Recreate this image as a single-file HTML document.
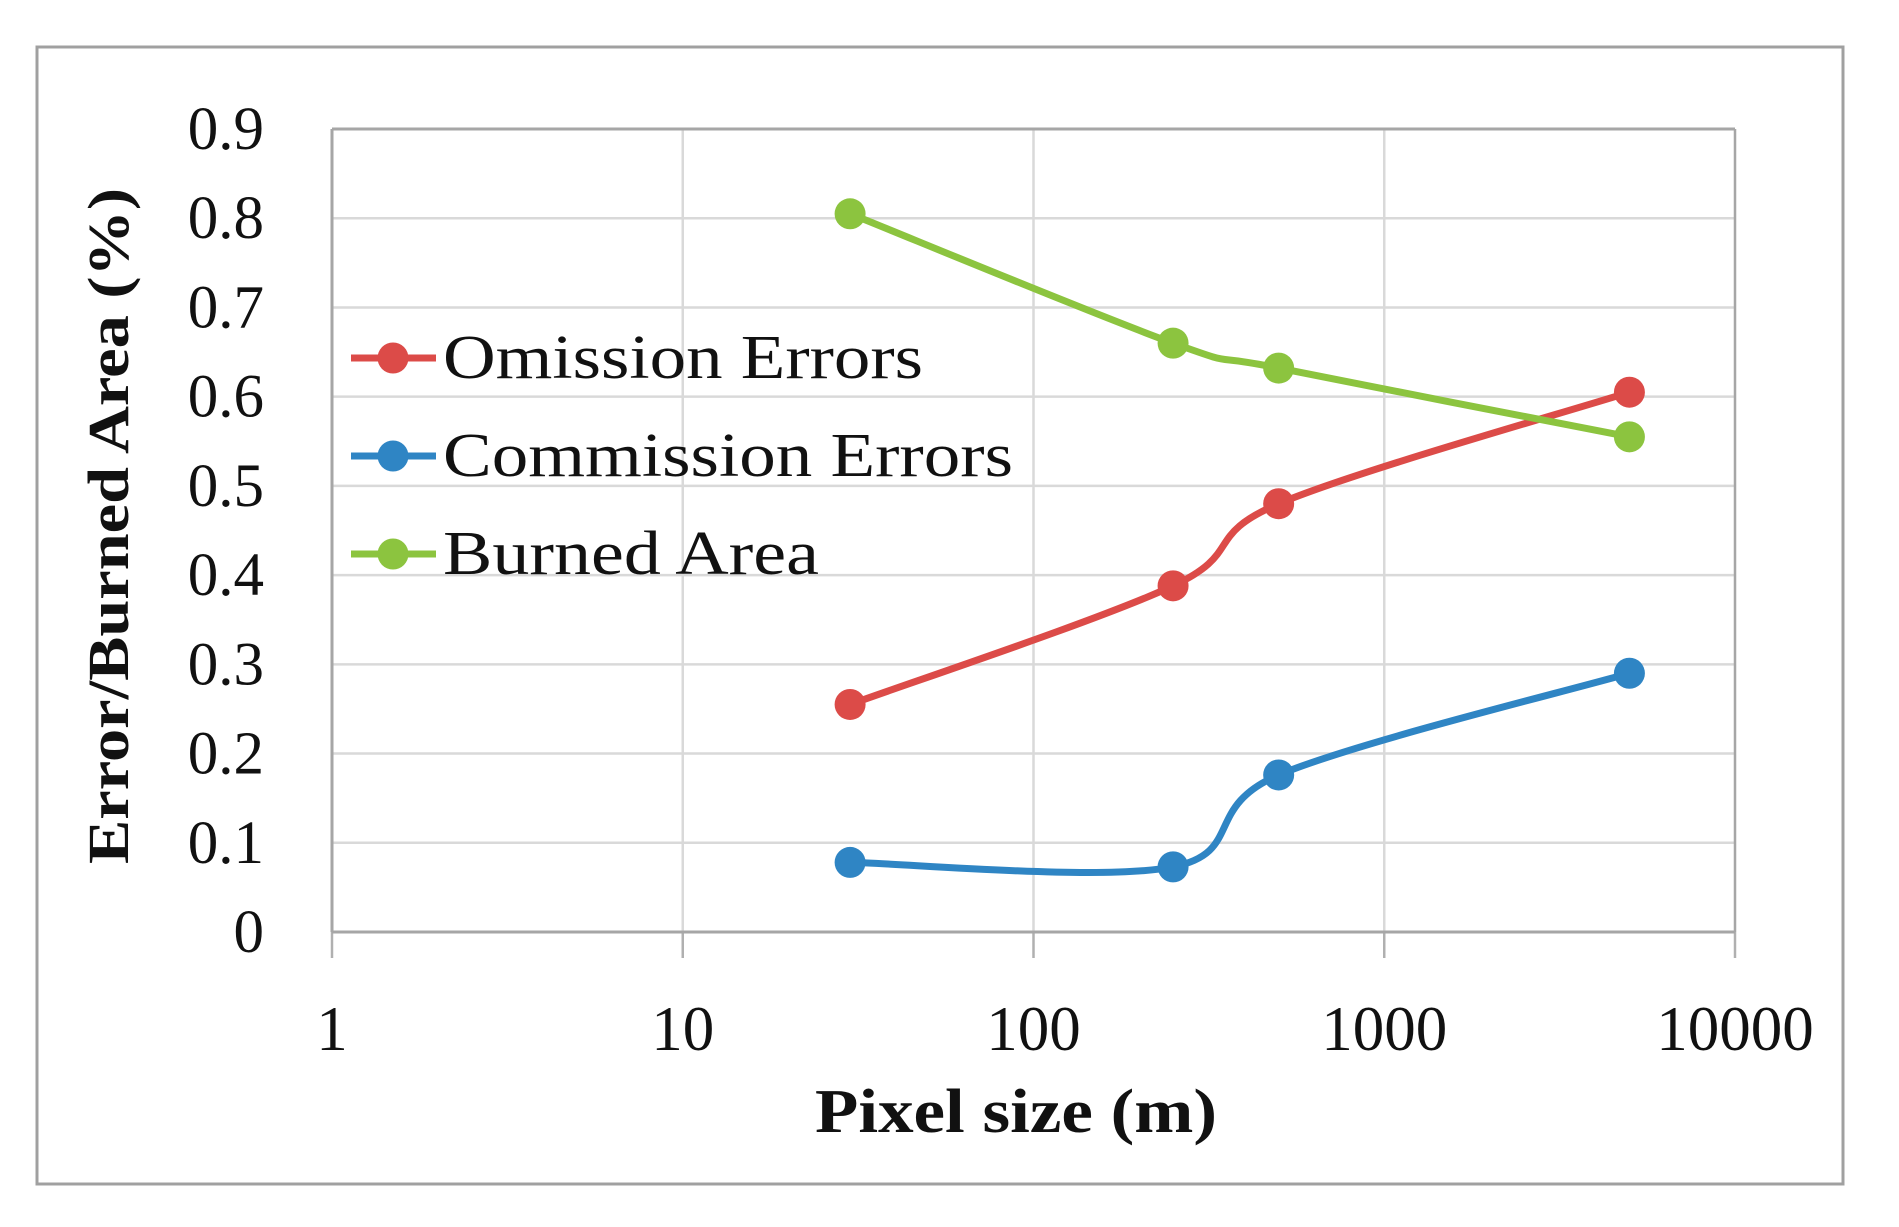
<!DOCTYPE html>
<html><head><meta charset="utf-8"><style>
html,body{margin:0;padding:0;background:#fff;}
svg{display:block;font-family:"Liberation Serif",serif;}
</style></head><body>
<svg id="chart" width="1899" height="1227" viewBox="0 0 1899 1227" xmlns="http://www.w3.org/2000/svg">
<rect x="37" y="47" width="1806" height="1137" fill="#fff" stroke="#a0a0a0" stroke-width="3"/>
<g id="grid"></g><g id="axes"></g><g id="series"></g>
<text x="1016" y="1132" font-size="62" font-weight="bold" text-anchor="middle" fill="#111" textLength="402" lengthAdjust="spacingAndGlyphs">Pixel size (m)</text>
<text transform="translate(128,526) rotate(-90)" font-size="58" font-weight="bold" text-anchor="middle" fill="#111" textLength="676" lengthAdjust="spacingAndGlyphs">Error/Burned Area (%)</text>
<g id="legend"></g>
</svg>
<script>
const xCategories=[30,250,500,5000];
const omission=[0.255,0.388,0.48,0.605];
const commission=[0.078,0.073,0.176,0.29];
const burned=[0.805,0.66,0.632,0.555];
const yTicks=[0,0.1,0.2,0.3,0.4,0.5,0.6,0.7,0.8,0.9];
const yTickLabels=["0","0.1","0.2","0.3","0.4","0.5","0.6","0.7","0.8","0.9"];
const xTicks=[1,10,100,1000,10000];
const xTickLabels=["1","10","100","1000","10000"];
const seriesNames=["Omission Errors","Commission Errors","Burned Area"];

const NS="http://www.w3.org/2000/svg";
const PL=332,PR=1735,PT=129,PB=932;
function xs(v){return PL+(Math.log10(v)-0)/4*(PR-PL);}
function ys(v){return PB-v/0.9*(PB-PT);}
function mk(tag,attrs,parent){const e=document.createElementNS(NS,tag);for(const k in attrs)e.setAttribute(k,attrs[k]);parent.appendChild(e);return e;}
const gridG=document.getElementById('grid'),axesG=document.getElementById('axes'),serG=document.getElementById('series'),legG=document.getElementById('legend');
yTicks.forEach((t,i)=>{
  if(t>0){const g=mk('line',{x1:PL,x2:PR,y1:ys(t),y2:ys(t),stroke:'#d9d9d9','stroke-width':2.5},gridG);
  
  }
  const tx=mk('text',{x:264,y:ys(t)+20,'font-size':61,'text-anchor':'end',fill:'#111'},axesG);tx.textContent=yTickLabels[i];
  
  
});
xTicks.forEach((t,i)=>{
  const g=mk('line',{x1:xs(t),x2:xs(t),y1:PT,y2:PB,stroke:i==0||i==4?'#a6a6a6':'#d9d9d9','stroke-width':2.5},gridG);
  
  
  const tk=mk('line',{x1:xs(t),x2:xs(t),y1:PB,y2:958,stroke:'#b0b0b0','stroke-width':2.5},axesG);
  
  
  const tx=mk('text',{x:xs(t),y:1050,'font-size':63,'text-anchor':'middle',fill:'#111'},axesG);tx.textContent=xTickLabels[i];
  
  
});
const topBorder=mk('line',{x1:PL,x2:PR,y1:PT,y2:PT,stroke:'#a6a6a6','stroke-width':3},axesG);


const xAxisLine=mk('line',{x1:PL,x2:PR,y1:PB,y2:PB,stroke:'#a6a6a6','stroke-width':3},axesG);


const yAxisLine=mk('line',{x1:PL,x2:PL,y1:PT,y2:PB,stroke:'#a6a6a6','stroke-width':3},axesG);



function smooth(pts){
  let d=`M${pts[0][0]},${pts[0][1]}`;
  for(let i=0;i<pts.length-1;i++){
    const p0=pts[i-1]||pts[i],p1=pts[i],p2=pts[i+1],p3=pts[i+2]||p2;
    const c1=[p1[0]+(p2[0]-p0[0])/6,p1[1]+(p2[1]-p0[1])/6];
    const c2=[p2[0]-(p3[0]-p1[0])/6,p2[1]-(p3[1]-p1[1])/6];
    d+=` C${c1[0]},${c1[1]} ${c2[0]},${c2[1]} ${p2[0]},${p2[1]}`;
  }
  return d;
}
const allSeries=[omission,commission,burned];
const seriesColors=["#dc4b48","#2f85c4","#8cc43f"];
const seriesKeys=["omission","commission","burned"];
allSeries.forEach((vals,s)=>{
  const pts=xCategories.map((c,i)=>[xs(c),ys(vals[i])]);
  const p=mk('path',{d:smooth(pts),fill:'none',stroke:seriesColors[s],'stroke-width':7,'stroke-linejoin':'round'},serG);
  
  
  pts.forEach(pt=>{
    const c=mk('circle',{cx:pt[0],cy:pt[1],r:15.5,fill:seriesColors[s]},serG);
    
    
  });
  const ly=358+s*98;
  const ll=mk('line',{x1:351,x2:436,y1:ly,y2:ly,stroke:seriesColors[s],'stroke-width':7},legG);
  
  
  const lc=mk('circle',{cx:393,cy:ly,r:15.5,fill:seriesColors[s]},legG);
  
  
  const lens=[480,570,376];
  const lt=mk('text',{x:443,y:ly+20,'font-size':62,fill:'#111',textLength:lens[s],lengthAdjust:'spacingAndGlyphs'},legG);
  lt.textContent=seriesNames[s];
  
  
});
</script>
</body></html>
